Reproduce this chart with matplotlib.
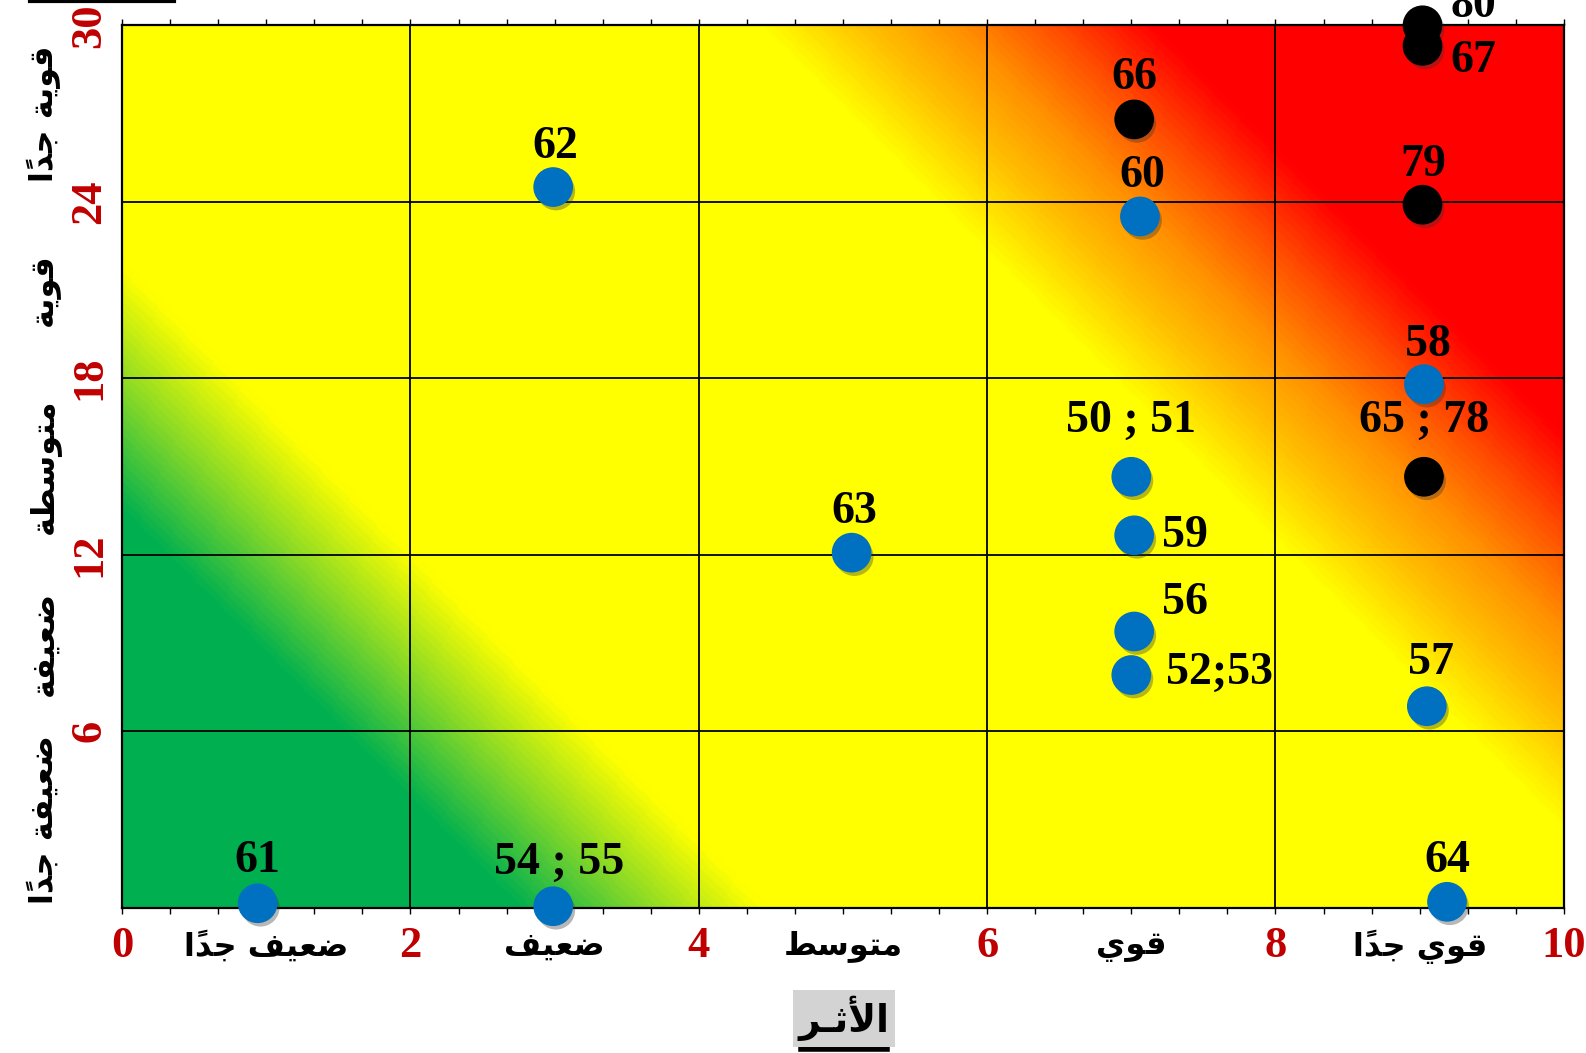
import numpy as np
import matplotlib
matplotlib.use('Agg')
from matplotlib import pyplot as plt
from matplotlib.colors import LinearSegmentedColormap
from matplotlib.lines import Line2D
import matplotlib.patheffects as pe

# ---- data ----
point_labels = ['61', '54 ; 55', '62', '63', '60', '66', '50 ; 51', '59', '56', '52;53',
                '58', '65 ; 78', '57', '64', '79', '67', '80']
impact = [0.94, 2.99, 2.99, 5.06, 7.06, 7.02, 7.0, 7.02, 7.02, 7.0,
          9.03, 9.03, 9.05, 9.19, 9.02, 9.02, 9.02]
probability = [0.15, 0.05, 24.5, 12.07, 23.5, 26.8, 14.65, 12.66, 9.39, 7.91,
               17.8, 14.65, 6.85, 0.2, 23.9, 29.3, 30.0]
critical = [False, False, False, False, False, True, False, False, False, False,
            False, True, False, False, True, True, True]

x_ticks = [0, 2, 4, 6, 8, 10]
y_ticks = [0, 6, 12, 18, 24, 30]
x_cats = ['ضعيف جداً', 'ضعيف', 'متوسط', 'قوي', 'قوي جداً']
y_cats = ['ضعيفة جداً', 'ضعيفة', 'متوسطة', 'قوية', 'قوية جداً']
x_title = 'الأثـر'

# label offsets (pixels) from each point
label_offsets = [(0, 42), (6, 43), (2, 40), (3, 41), (2, 40), (0, 41), (0, 56), (51, -1),
                 (51, 28), (88, 2), (4, 39), (0, 56), (4, 43), (0, 41), (1, 40), (51, -15), (51, 19)]


# ---- simple arabic shaping (matplotlib has no bidi / joining) ----
FORMS = {
    'ا': ('\uFE8D', '\uFE8E', None, None),
    'أ': ('\uFE83', '\uFE84', None, None),
    'ة': ('\uFE93', '\uFE94', None, None),
    'ت': ('\uFE95', '\uFE96', '\uFE97', '\uFE98'),
    'ث': ('\uFE99', '\uFE9A', '\uFE9B', '\uFE9C'),
    'ج': ('\uFE9D', '\uFE9E', '\uFE9F', '\uFEA0'),
    'د': ('\uFEA9', '\uFEAA', None, None),
    'ر': ('\uFEAD', '\uFEAE', None, None),
    'س': ('\uFEB1', '\uFEB2', '\uFEB3', '\uFEB4'),
    'ض': ('\uFEBD', '\uFEBE', '\uFEBF', '\uFEC0'),
    'ط': ('\uFEC1', '\uFEC2', '\uFEC3', '\uFEC4'),
    'ع': ('\uFEC9', '\uFECA', '\uFECB', '\uFECC'),
    'ف': ('\uFED1', '\uFED2', '\uFED3', '\uFED4'),
    'ق': ('\uFED5', '\uFED6', '\uFED7', '\uFED8'),
    'ل': ('\uFEDD', '\uFEDE', '\uFEDF', '\uFEE0'),
    'م': ('\uFEE1', '\uFEE2', '\uFEE3', '\uFEE4'),
    'و': ('\uFEED', '\uFEEE', None, None),
    'ي': ('\uFEF1', '\uFEF2', '\uFEF3', '\uFEF4'),
    'ـ': ('ـ', 'ـ', 'ـ', 'ـ'),
}
LAM_ALEF = {'ا': ('\uFEFB', '\uFEFC'), 'أ': ('\uFEF7', '\uFEF8')}
MARKS = '\u064B'


def shape(text):
    clusters = []
    for ch in text:
        if ch in MARKS and clusters:
            clusters[-1][1] += ch
        else:
            clusters.append([ch, ''])
    merged = []
    i = 0
    while i < len(clusters):
        b, m = clusters[i]
        if b == 'ل' and i + 1 < len(clusters) and clusters[i + 1][0] in LAM_ALEF:
            merged.append(['LA' + clusters[i + 1][0], m + clusters[i + 1][1]])
            i += 2
        else:
            merged.append([b, m])
            i += 1

    def dual(b):
        return b in FORMS and FORMS[b][2] is not None

    def joins(b):
        return b in FORMS or b.startswith('LA')

    res = []
    for i, (b, m) in enumerate(merged):
        prev = merged[i - 1][0] if i > 0 else None
        nxt = merged[i + 1][0] if i + 1 < len(merged) else None
        jp = prev is not None and dual(prev)
        if b.startswith('LA'):
            g = LAM_ALEF[b[2]][1 if jp else 0]
        elif b in FORMS:
            jn = dual(b) and nxt is not None and joins(nxt)
            iso, fin, ini, med = FORMS[b]
            g = med if (jp and jn) else fin if jp else ini if jn else iso
        else:
            g = b
        res.append(g + m)
    return ''.join(reversed(res))


# ---- figure ----
fig = plt.figure(figsize=(15.86, 10.53), dpi=100)
ax = fig.add_axes([0.077, 0.138, 0.909, 0.838])

# diagonal background gradient (45 deg in screen space)
W, H = 1442.0, 883.0
u = np.linspace(0, 1, 600)
v = np.linspace(0, 1, 400)
U, V = np.meshgrid(u, v)
T = (U * W + V * H) / (W + H)
cmap = LinearSegmentedColormap.from_list('risk', [
    (0.0, '#00B050'), (0.17, '#00B050'), (0.22, '#7FD62A'), (0.275, '#FFFF00'),
    (0.655, '#FFFF00'), (0.70, '#FFC000'), (0.74, '#FF9000'), (0.78, '#FF5000'),
    (0.825, '#FF0000'), (1.0, '#FF0000')])
ax.imshow(T, origin='lower', extent=[0, 10, 0, 30], aspect='auto', cmap=cmap,
          vmin=0, vmax=1, interpolation='bilinear', zorder=0)

ax.set_xlim(0, 10)
ax.set_ylim(0, 30)
ax.set_xticks(x_ticks)
ax.set_yticks(y_ticks)
ax.set_xticks(np.arange(0, 10.01, 1 / 3), minor=True)
ax.grid(True, which='major', color='black', linewidth=1.3, zorder=1)
ax.set_axisbelow(False)
for s in ax.spines.values():
    s.set_linewidth(1.6)
    s.set_color('black')
ax.tick_params(axis='x', which='both', direction='out', length=4, width=1,
               top=True, bottom=True, pad=9)
ax.tick_params(axis='y', which='both', length=0, pad=9)

ax.set_xticklabels([str(t) for t in x_ticks], family='Liberation Serif',
                   fontweight='bold', fontsize=32, color='#C00000')
ax.set_yticklabels([str(t) for t in y_ticks], family='Liberation Serif',
                   fontweight='bold', fontsize=32, color='#C00000', rotation=90, va='center')
ylabs = ax.get_yticklabels()
ylabs[0].set_visible(False)

# category labels
for i, c in enumerate(x_cats):
    ax.text(2 * i + 1, -0.044, shape(c), transform=ax.get_xaxis_transform(),
            ha='center', va='center', fontsize=23, fontweight='bold', family='DejaVu Sans')
for i, c in enumerate(y_cats):
    ax.text(-0.054, 6 * i + 3, shape(c), transform=ax.get_yaxis_transform(),
            ha='center', va='center', rotation=90, fontsize=23, fontweight='bold',
            family='DejaVu Sans')

fig.text(0.532, 0.033, shape(x_title), ha='center', va='center',
         fontsize=27, fontweight='bold', family='DejaVu Sans',
         bbox=dict(facecolor='#D3D3D3', edgecolor='none', pad=4))
fig.add_artist(Line2D([0.505, 0.559], [0.004, 0.004], color='black', linewidth=4))

# black line remnant at top-left
fig.add_artist(Line2D([0.019, 0.110], [0.999, 0.999], color='black', linewidth=3))

# points
colors = ['black' if c else '#0070C0' for c in critical]
ax.scatter(impact, probability, s=760, c=colors, zorder=5, clip_on=False,
           path_effects=[pe.SimplePatchShadow(offset=(2, -3), shadow_rgbFace='#333333',
                                              alpha=0.35), pe.Normal()])

for lab, x, y, off in zip(point_labels, impact, probability, label_offsets):
    ax.annotate(lab, (x, y), xytext=off, textcoords='offset pixels', ha='center',
                va='center', fontsize=33, fontweight='bold', family='Liberation Serif',
                color='black', zorder=6, annotation_clip=False)

fig.savefig('out.png', dpi=100)
